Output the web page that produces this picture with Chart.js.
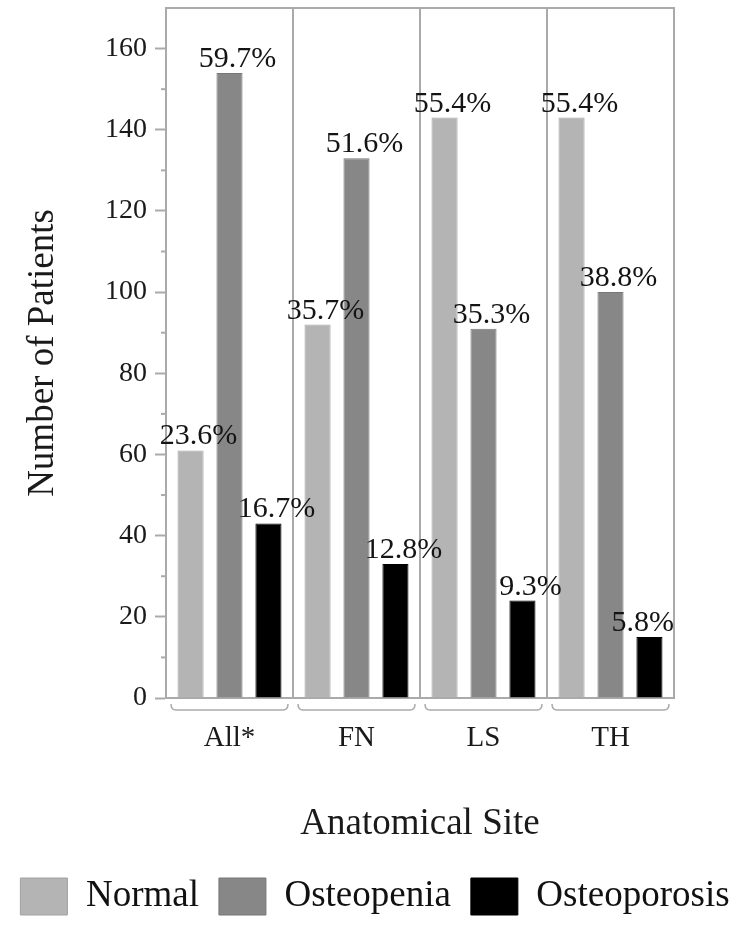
<!DOCTYPE html>
<html>
<head>
<meta charset="utf-8">
<script src="https://cdn.jsdelivr.net/npm/chart.js@4.4.0/dist/chart.umd.min.js"></script>
<style>
	html, body { margin: 0; padding: 0; background: #fff; }
</style>
</head>
<body>
<canvas id="graficoSitio" width="750" height="925"></canvas>
<script>
var sites = ['All*', 'FN', 'LS', 'TH']
var normal = [61, 92, 143, 143]
var osteopenia = [154, 133, 91, 100]
var osteoporosis = [43, 33, 24, 15]
var pctNormal = ['23.6%', '35.7%', '55.4%', '55.4%']
var pctOsteopenia = ['59.7%', '51.6%', '35.3%', '38.8%']
var pctOsteoporosis = ['16.7%', '12.8%', '9.3%', '5.8%']
var yTicks = [0, 20, 40, 60, 80, 100, 120, 140, 160]

var serif = "'Liberation Serif', 'Times New Roman', serif"
var lineGray = '#aaaaaa'
Chart.defaults.font.family = serif
Chart.defaults.color = '#1a1a1a'

// percent labels over each bar
var rotulosPlugin = {
	id: 'rotulos',
	afterDatasetsDraw: function (chart) {
		var ctx = chart.ctx
		var area = chart.chartArea
		ctx.save()
		ctx.font = '30px ' + serif
		ctx.fillStyle = '#141414'
		ctx.textBaseline = 'alphabetic'
		chart.data.datasets.forEach(function (ds, i) {
			var meta = chart.getDatasetMeta(i)
			meta.data.forEach(function (bar, j) {
				var txt = ds.pct[j]
				var w = ctx.measureText(txt).width
				var x = bar.x + 8 - w / 2
				if (x + w > area.right) x = area.right - w
				ctx.fillText(txt, x, bar.y - 6)
			})
		})
		ctx.restore()
	}
}

// frame, minor ticks and the brackets under the categories
var molduraPlugin = {
	id: 'moldura',
	afterDraw: function (chart) {
		var ctx = chart.ctx
		var area = chart.chartArea
		var xs = chart.scales.x
		var ys = chart.scales.y
		ctx.save()
		ctx.strokeStyle = lineGray
		ctx.lineWidth = 2
		ctx.beginPath()
		ctx.moveTo(area.left, area.top)
		ctx.lineTo(area.right, area.top)
		ctx.lineTo(area.right, area.bottom)
		ctx.stroke()

		for (var v = 10; v < 160; v += 20) {
			var py = ys.getPixelForValue(v)
			ctx.beginPath()
			ctx.moveTo(area.left - 5, py)
			ctx.lineTo(area.left, py)
			ctx.stroke()
		}

		var half = (area.right - area.left) / sites.length / 2
		var by = area.bottom + 12
		ctx.lineWidth = 1.5
		sites.forEach(function (s, i) {
			var cx = xs.getPixelForValue(i)
			var l = cx - half + 5
			var r = cx + half - 5
			ctx.beginPath()
			ctx.moveTo(l, by - 6)
			ctx.quadraticCurveTo(l, by, l + 5, by)
			ctx.lineTo(r - 5, by)
			ctx.quadraticCurveTo(r, by, r, by - 6)
			ctx.stroke()
		})
		ctx.restore()
	}
}

var configChart = {
	type: 'bar',
	data: {
		labels: sites,
		datasets: [{
			label: 'Normal',
			data: normal,
			pct: pctNormal,
			backgroundColor: '#b4b4b4',
			borderColor: '#a2a2a2',
			borderWidth: 1,
		}, {
			label: 'Osteopenia',
			data: osteopenia,
			pct: pctOsteopenia,
			backgroundColor: '#878787',
			borderColor: '#777777',
			borderWidth: 1,
		}, {
			label: 'Osteoporosis',
			data: osteoporosis,
			pct: pctOsteoporosis,
			backgroundColor: '#000000',
			borderColor: '#000000',
			borderWidth: 1,
		}]
	},
	options: {
		responsive: false,
		animation: false,
		layout: { padding: { top: 8, left: 0, right: 0, bottom: 0 } },
		categoryPercentage: 0.92,
		barPercentage: 0.67,
		plugins: {
			tooltip: { enabled: false },
			title: { display: false },
			legend: {
				position: 'bottom',
				labels: {
					font: { size: 37, lineHeight: 1 },
					color: '#111',
					boxWidth: 47,
					boxHeight: 37,
					padding: 20,
				}
			}
		},
		scales: {
			x: {
				grid: {
					display: true,
					drawOnChartArea: true,
					drawTicks: false,
					offset: true,
					color: lineGray,
					lineWidth: 2,
				},
				border: { display: true, color: lineGray, width: 2 },
				ticks: { font: { size: 29 }, padding: 23, color: '#1a1a1a' },
				title: {
					display: true,
					text: 'Anatomical Site',
					font: { size: 37 },
					color: '#1a1a1a',
					padding: { top: 0, bottom: 12 },
				},
				afterFit: function (scale) { scale.height = 160 }
			},
			y: {
				min: 0,
				max: 170,
				grid: {
					display: true,
					drawOnChartArea: false,
					drawTicks: true,
					tickLength: 11,
					tickWidth: 2,
					tickColor: function (c) {
						return yTicks.indexOf(c.tick.value) >= 0 ? lineGray : 'rgba(0,0,0,0)'
					},
				},
				border: { display: true, color: lineGray, width: 2 },
				ticks: {
					stepSize: 10,
					padding: 8,
					font: { size: 28 },
					color: '#1a1a1a',
					callback: function (value) {
						return yTicks.indexOf(value) >= 0 ? value : ''
					}
				},
				title: {
					display: true,
					text: 'Number of Patients',
					font: { size: 37 },
					color: '#1a1a1a',
					padding: { top: 21, bottom: 0 },
				},
				afterFit: function (scale) {
					scale.width = 166
					scale.paddingTop = 0
				}
			},
			yDireita: {
				position: 'right',
				display: true,
				grid: { display: false },
				border: { display: false },
				ticks: { display: false },
				afterFit: function (scale) {
					scale.width = 76
					scale.paddingTop = 0
				}
			}
		}
	},
	plugins: [rotulosPlugin, molduraPlugin]
}

var ctx333 = document.getElementById('graficoSitio').getContext('2d')
window.myBar = new Chart(ctx333, configChart)
</script>
</body>
</html>
